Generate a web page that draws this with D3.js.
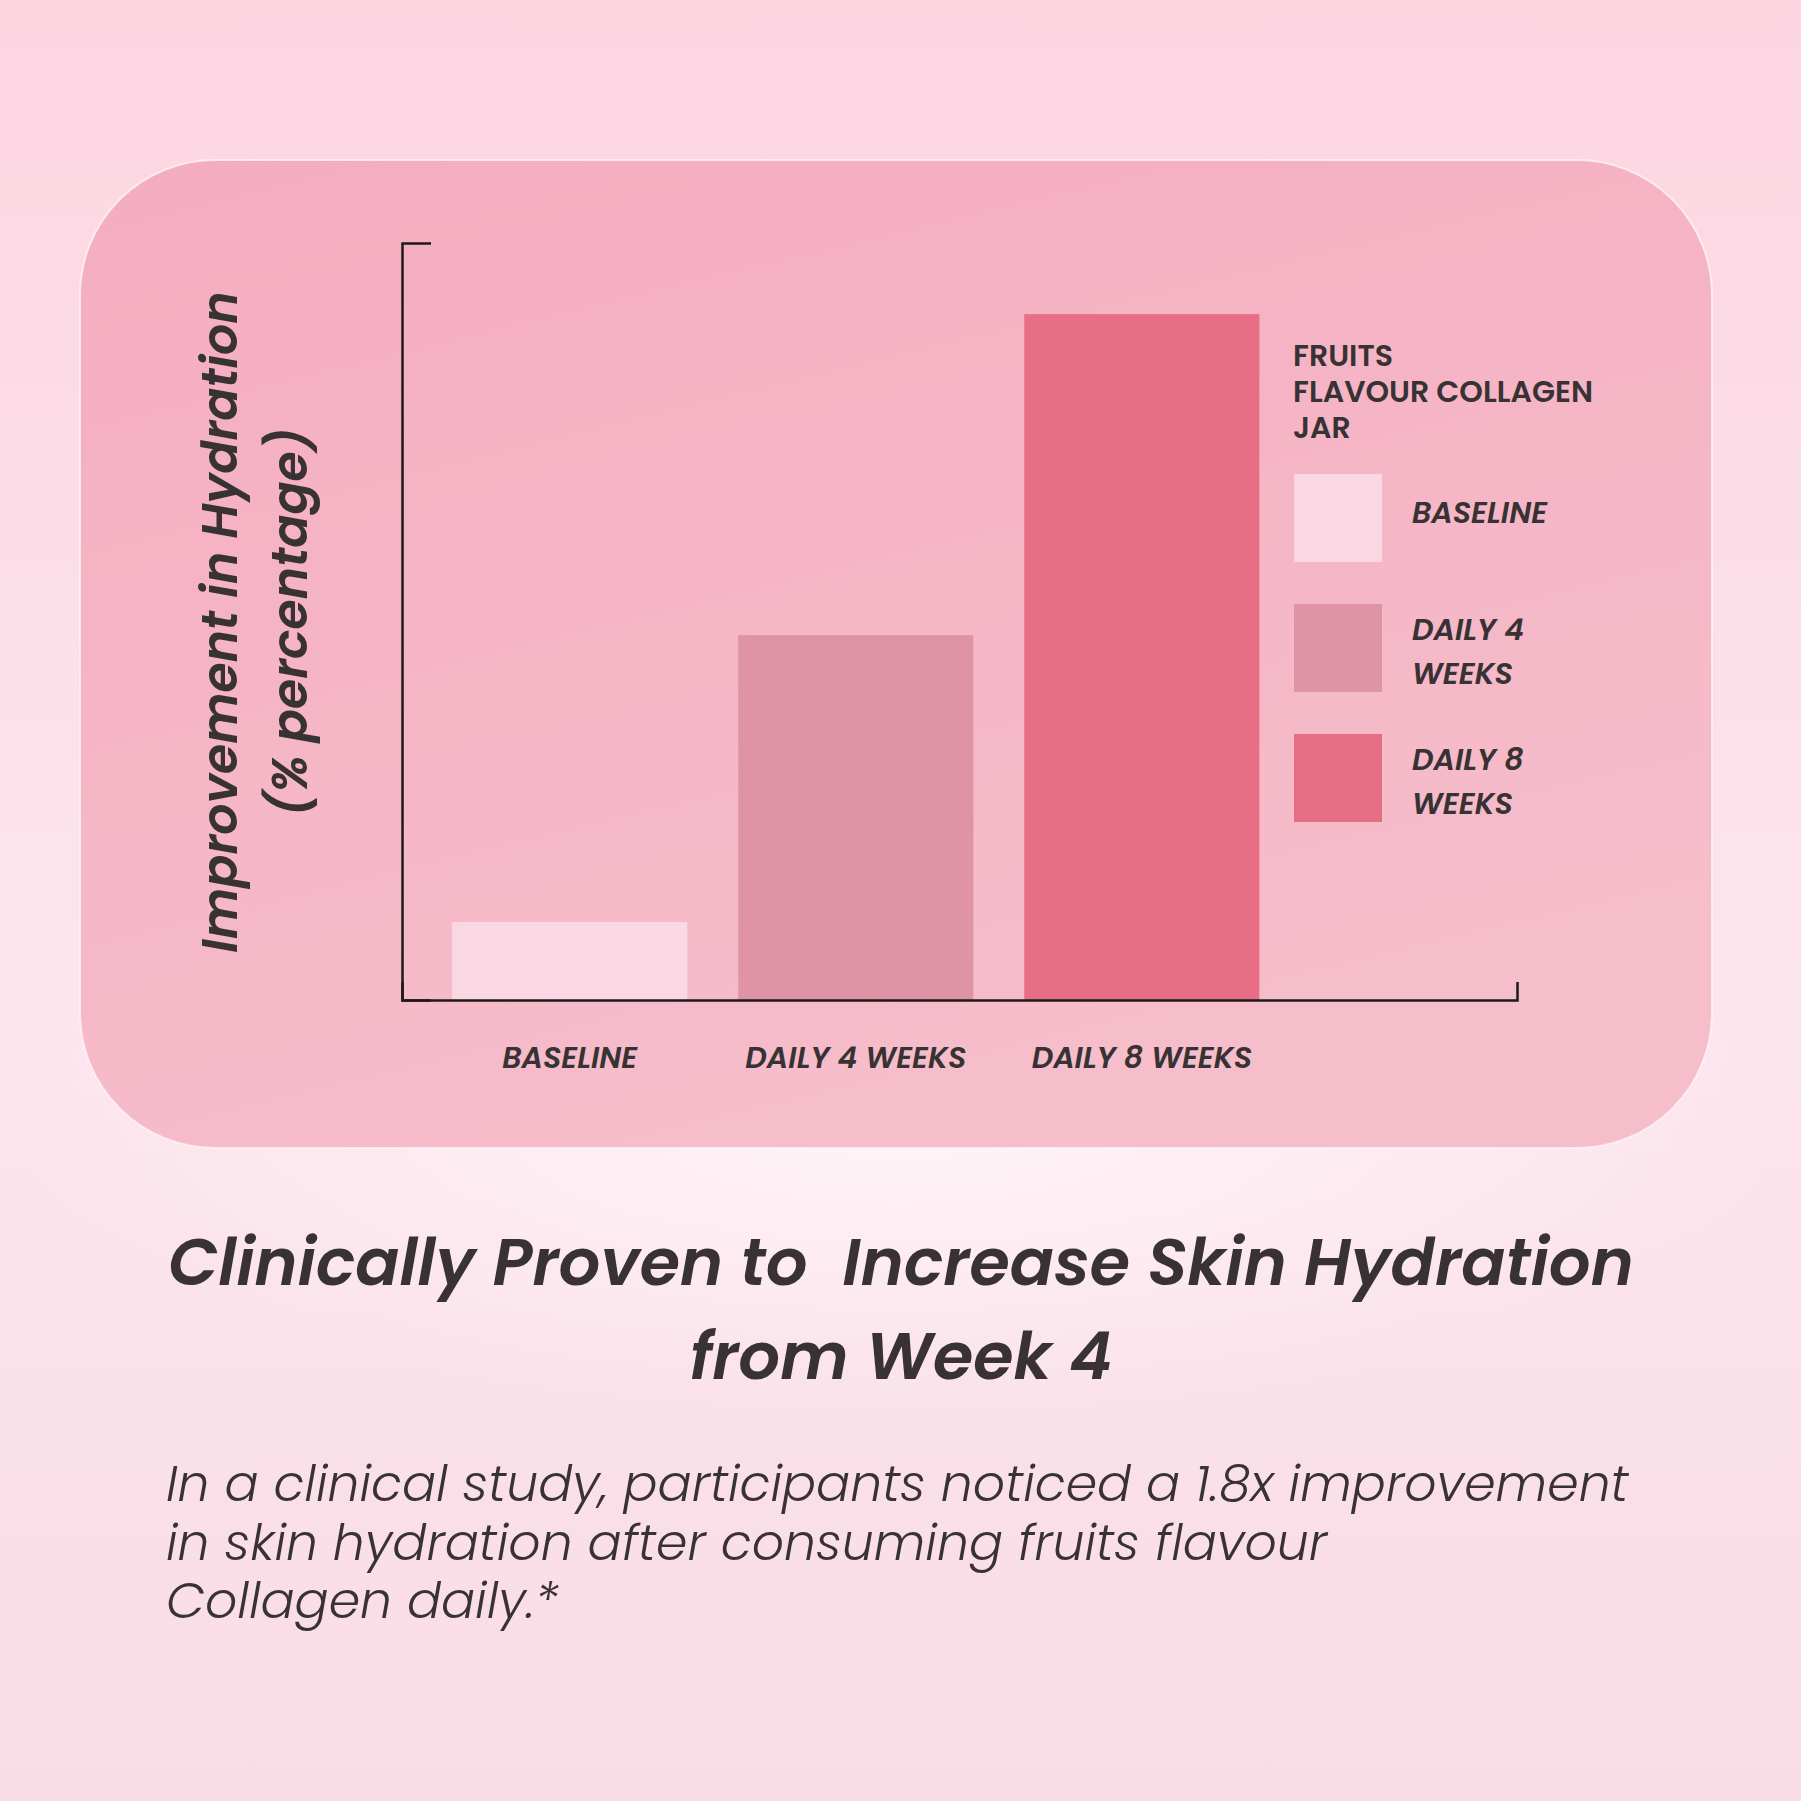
<!DOCTYPE html>
<html>
<head>
<meta charset="utf-8">
<script src="https://cdn.jsdelivr.net/npm/d3@7"></script>
<style>
  html, body { margin: 0; padding: 0; background: #fbdde7; }
  text { font-family: "Poppins", "Open Sans", sans-serif; fill: #383234; white-space: pre; }
  .tick_label { font-size: 30px; font-weight: 600; font-style: italic; }
  .legend_title { font-size: 30px; font-weight: 600; }
  .legend_label { font-size: 30px; font-weight: 600; font-style: italic; }
  .y_label { font-size: 49px; font-weight: 600; font-style: italic; }
  .headline { font-size: 65.3px; font-weight: 600; font-style: italic; }
  .body_text { font-size: 50.5px; font-weight: 300; font-style: italic; }
</style>
</head>
<body>
<div class="hydration_chart"></div>
<script>

// data
const categories = ["BASELINE", "DAILY 4 WEEKS", "DAILY 8 WEEKS"]
const values = [10.3, 48.2, 90.6]
const barColours = ["#f9d8e4", "#df94a6", "#e76e84"]
const legendTitle = ["FRUITS", "FLAVOUR COLLAGEN", "JAR"]
const legendLabels = [["BASELINE"], ["DAILY 4", "WEEKS"], ["DAILY 8", "WEEKS"]]
const yLabelLines = ["Improvement in Hydration", "(% percentage)"]
const headlineLines = ["Clinically Proven to  Increase Skin Hydration", "from Week 4"]
const bodyLines = [
    "In a clinical study, participants noticed a 1.8x improvement",
    "in skin hydration after consuming fruits flavour",
    "Collagen daily.*"
]

function drawHydration() {

    const width = 1801
    const height = 1801

    const svg = d3.select(".hydration_chart")
        .append("svg")
        .attr("width", width)
        .attr("height", height)

    const defs = svg.append("defs")

    const bg = defs.append("linearGradient")
        .attr("id", "bg_grad")
        .attr("x1", 0).attr("y1", 0).attr("x2", 0).attr("y2", 1)
    bg.append("stop").attr("offset", "0%").attr("stop-color", "#fcd5e1")
    bg.append("stop").attr("offset", "55%").attr("stop-color", "#fde5ed")
    bg.append("stop").attr("offset", "100%").attr("stop-color", "#f8dce6")

    const glow = defs.append("radialGradient")
        .attr("id", "glow_grad")
        .attr("cx", 0.5).attr("cy", 0.5).attr("r", 0.5)
    glow.append("stop").attr("offset", "0%").attr("stop-color", "#fff6f9").attr("stop-opacity", 0.9)
    glow.append("stop").attr("offset", "100%").attr("stop-color", "#fff6f9").attr("stop-opacity", 0)

    const card = defs.append("linearGradient")
        .attr("id", "card_grad")
        .attr("x1", 0).attr("y1", 0).attr("x2", 0.4).attr("y2", 1)
    card.append("stop").attr("offset", "0%").attr("stop-color", "#f4adc0")
    card.append("stop").attr("offset", "100%").attr("stop-color", "#f6bdcb")

    svg.append("rect")
        .attr("width", width)
        .attr("height", height)
        .attr("fill", "url(#bg_grad)")

    svg.append("ellipse")
        .attr("cx", 900)
        .attr("cy", 1120)
        .attr("rx", 900)
        .attr("ry", 300)
        .attr("fill", "url(#glow_grad)")

    // rounded card behind the chart
    svg.append("rect")
        .attr("x", 80)
        .attr("y", 160)
        .attr("width", 1632)
        .attr("height", 988)
        .attr("rx", 135)
        .attr("fill", "url(#card_grad)")
        .attr("stroke", "#fff3f6")
        .attr("stroke-opacity", 0.8)
        .attr("stroke-width", 2)

    const x = d3.scaleBand()
        .domain(categories)
        .range([402, 1517])
        .paddingInner(0.178)
        .paddingOuter(0.538)
        .align(0.163)

    const y = d3.scaleLinear()
        .domain([0, 100])
        .range([1000, 243])

    const bars = svg.append("g")

    bars.selectAll("rect")
        .data(categories)
        .join("rect")
        .attr("x", d => x(d))
        .attr("y", (d, i) => y(values[i]))
        .attr("width", x.bandwidth())
        .attr("height", (d, i) => y(0) - y(values[i]))
        .attr("fill", (d, i) => barColours[i])

    const xAxis = svg.append("g")
        .attr("transform", `translate(0, ${y(0)})`)
        .call(d3.axisBottom(x).tickSizeInner(0).tickSizeOuter(-18).tickPadding(47))

    xAxis.select(".domain")
        .attr("stroke", "#1c1a1b")
        .attr("stroke-width", 2.5)

    xAxis.selectAll("text")
        .attr("class", "tick_label")
        .attr("fill", null)
        .attr("font-family", null)
        .attr("font-size", null)

    const yAxis = svg.append("g")
        .attr("transform", `translate(${x.range()[0]}, 0)`)
        .call(d3.axisLeft(y).tickValues([]).tickSizeOuter(-29))

    yAxis.select(".domain")
        .attr("stroke", "#1c1a1b")
        .attr("stroke-width", 2.5)

    // y axis title, two lines rotated
    svg.selectAll(".y_label")
        .data(yLabelLines)
        .join("text")
        .attr("class", "y_label")
        .attr("text-anchor", "middle")
        .attr("transform", (d, i) => `translate(${237 + i * 70}, 622) rotate(-90)`)
        .text(d => d)

    // legend
    const legendGroup = svg.append("g")
        .attr("transform", "translate(1293, 0)")

    legendGroup.selectAll(".legend_title")
        .data(legendTitle)
        .join("text")
        .attr("class", "legend_title")
        .attr("x", 0)
        .attr("y", (d, i) => 366 + i * 36)
        .text(d => d)

    const items = legendGroup.selectAll(".legend_item")
        .data(legendLabels)
        .join("g")
        .attr("class", "legend_item")
        .attr("transform", (d, i) => `translate(0, ${474 + i * 130})`)

    items.append("rect")
        .attr("x", 1)
        .attr("width", 88)
        .attr("height", 88)
        .attr("fill", (d, i) => barColours[i])

    items.each(function(lines) {
        const start = lines.length == 1 ? 49 : 36
        d3.select(this)
            .selectAll("text")
            .data(lines)
            .join("text")
            .attr("class", "legend_label")
            .attr("x", 119)
            .attr("y", (d, i) => start + i * 44)
            .text(d => d)
    })

    // headline and body copy
    svg.selectAll(".headline")
        .data(headlineLines)
        .join("text")
        .attr("class", "headline")
        .attr("text-anchor", "middle")
        .attr("x", 901)
        .attr("y", (d, i) => 1285 + i * 94)
        .text(d => d)

    svg.selectAll(".body_text")
        .data(bodyLines)
        .join("text")
        .attr("class", "body_text")
        .attr("x", 166)
        .attr("y", (d, i) => 1501 + i * 58.5)
        .text(d => d)
}

drawHydration()
</script>
</body>
</html>
